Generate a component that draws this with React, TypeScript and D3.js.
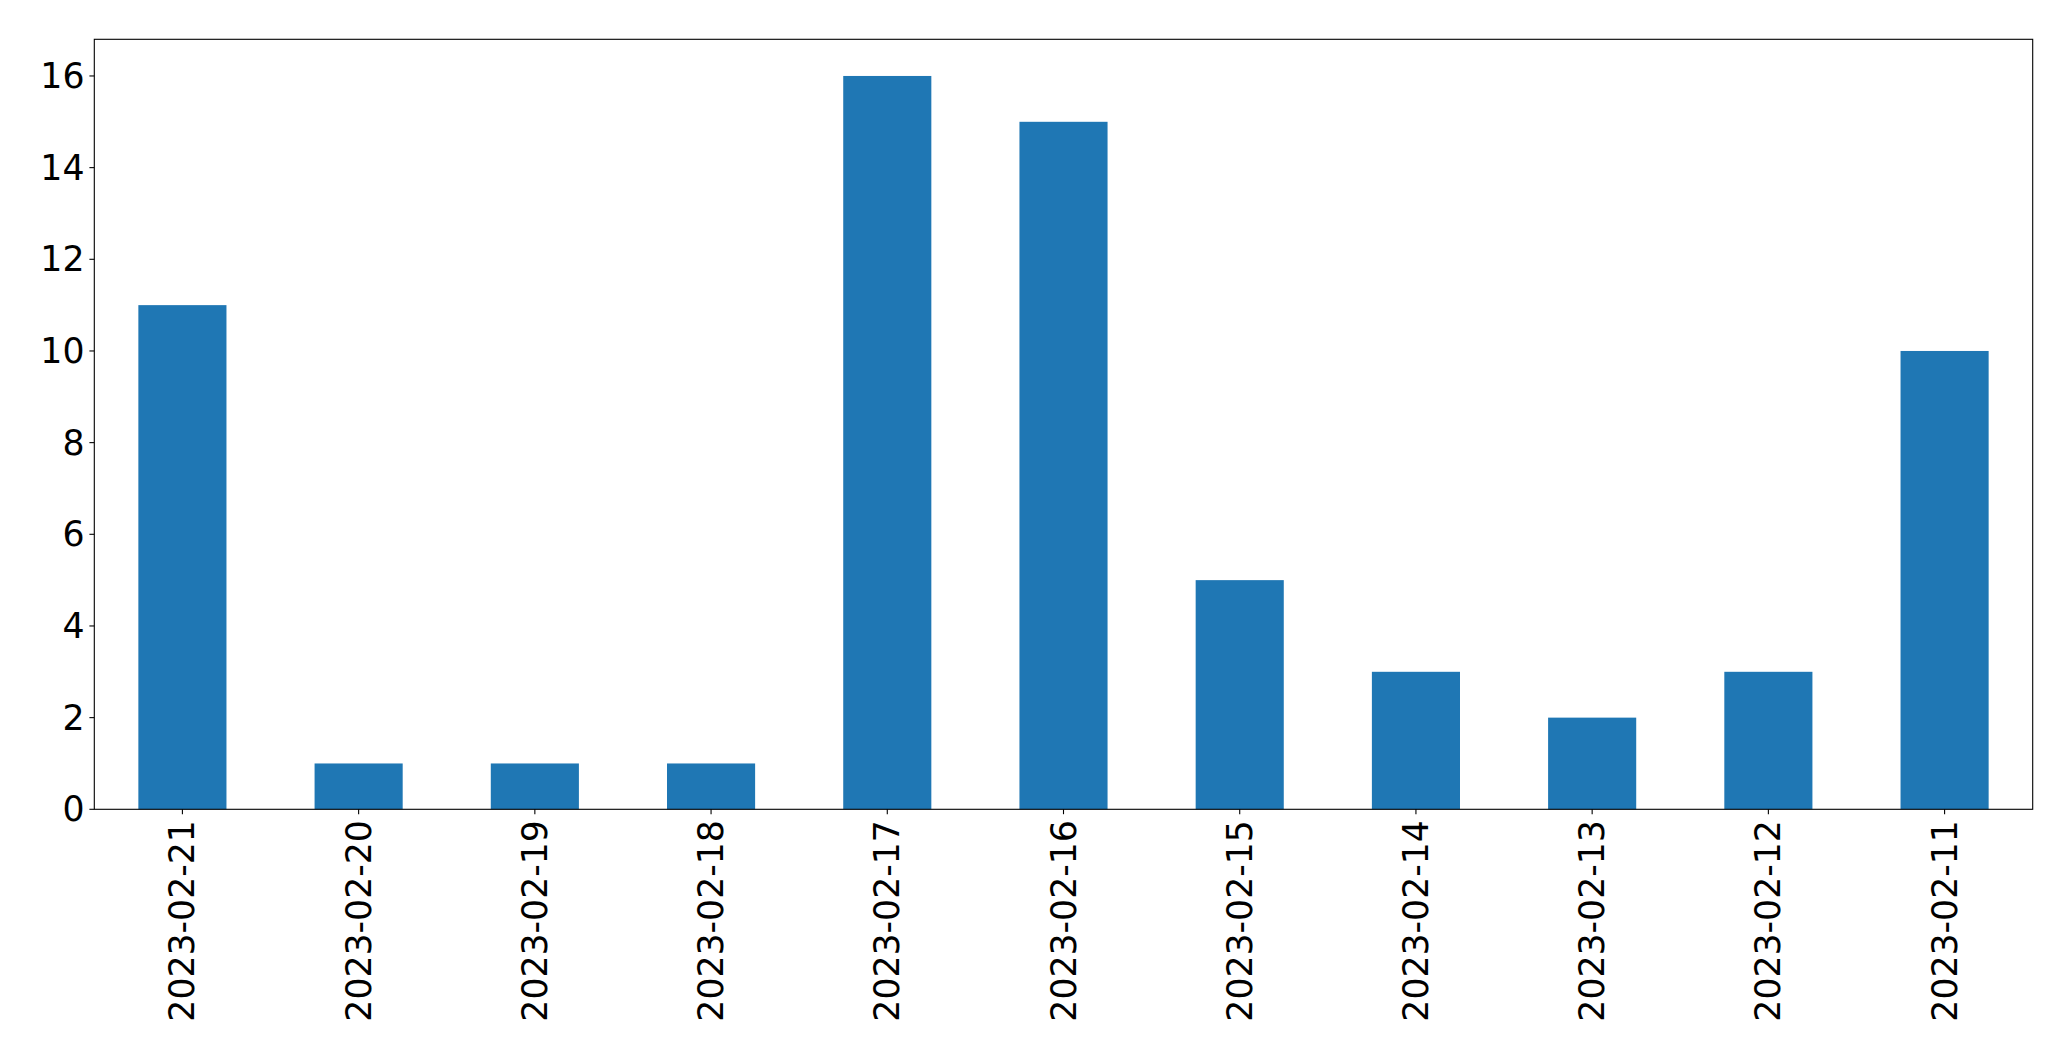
import React from "react";
import * as d3 from "d3";

const categories = ["2023-02-21","2023-02-20","2023-02-19","2023-02-18","2023-02-17","2023-02-16","2023-02-15","2023-02-14","2023-02-13","2023-02-12","2023-02-11"];
const values = [11, 1, 1, 1, 16, 15, 5, 3, 2, 3, 10];
const yTicks = [0, 2, 4, 6, 8, 10, 12, 14, 16];

const W = 2071, H = 1061;
const left = 94.3, right = 2032.7, top = 39.3, bottom = 809.3;
const FONT = "DejaVu Sans, sans-serif";
const FS = 34.7;
const TICK = 4.9, PAD = 4.9;

export default function App() {
  const x = d3.scaleLinear().domain([-0.5, categories.length - 0.5]).range([left, right]);
  const y = d3.scaleLinear().domain([0, 16.8]).range([bottom, top]);
  const bw = x(0.25) - x(-0.25);
  return (
    <svg width={W} height={H} style={{ position: "absolute", left: 0, top: 0, background: "#fff" }} fontFamily={FONT}>
      <rect x={0} y={0} width={W} height={H} fill="#fff" />
      {values.map((v, i) => (
        <rect key={i} x={x(i) - bw / 2} y={y(v)} width={bw} height={y(0) - y(v)} fill="#1f77b4" />
      ))}
      <rect x={left} y={top} width={right - left} height={bottom - top} fill="none" stroke="#000" strokeWidth={1.1} />
      {yTicks.map((t) => (
        <g key={t}>
          <line x1={left - TICK} x2={left} y1={y(t)} y2={y(t)} stroke="#000" strokeWidth={1.1} />
          <text x={left - TICK - PAD} y={y(t)} textAnchor="end" dominantBaseline="central" fontSize={FS} fill="#000">{t}</text>
        </g>
      ))}
      {categories.map((c, i) => (
        <g key={c}>
          <line x1={x(i)} x2={x(i)} y1={bottom} y2={bottom + TICK} stroke="#000" strokeWidth={1.1} />
          <text transform={`translate(${x(i)},${bottom + TICK + PAD + 1}) rotate(-90)`} textAnchor="end" dominantBaseline="central" fontSize={FS} fill="#000">{c}</text>
        </g>
      ))}
    </svg>
  );
}
